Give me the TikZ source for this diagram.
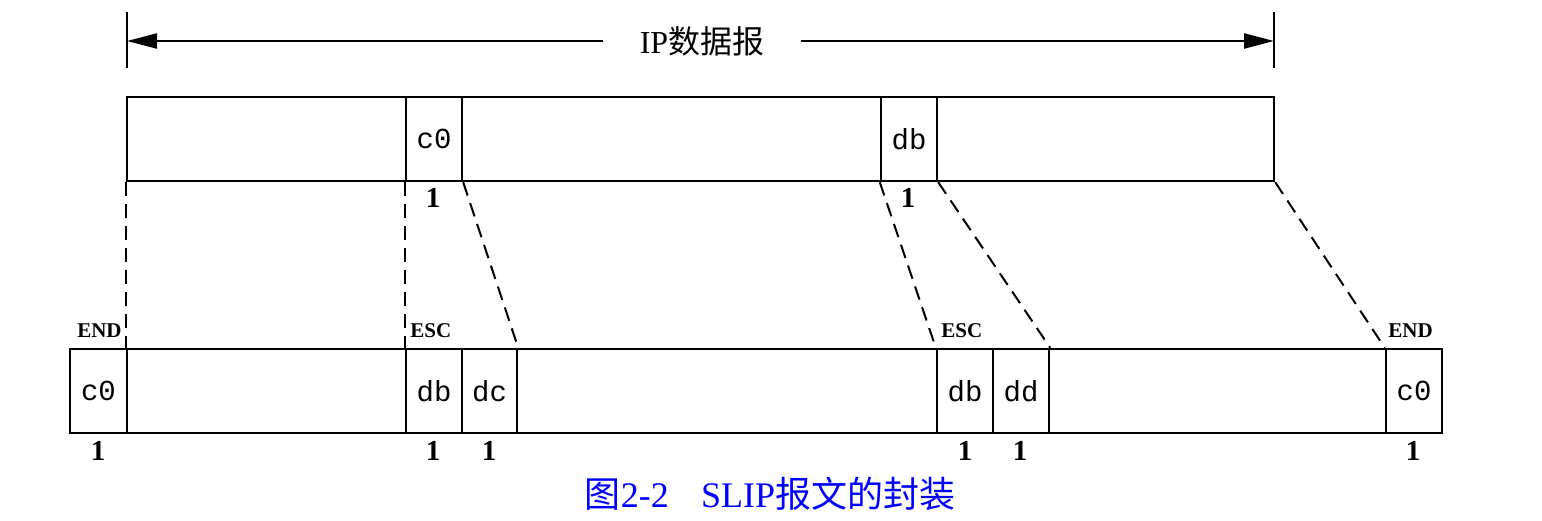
\documentclass[tikz,border=0pt]{standalone}
\usepackage{fontspec}
\setmainfont{Liberation Serif}
\newfontfamily\cjk{Noto Sans CJK SC}
\newfontfamily\celltt{Liberation Mono}
\usetikzlibrary{arrows.meta}

\tikzset{
	cell/.style = {draw, line width=1.2pt, minimum height=42pt, inner sep=0pt, font=\celltt\fontsize{14.5}{16}\selectfont},
	num/.style = {font=\bfseries\fontsize{14.5}{16}\selectfont},
	tag/.style = {inner sep=0pt, font=\bfseries\fontsize{10.5}{12}\selectfont},
	link/.style = {line width=1pt, dash pattern=on 7pt off 4pt}
}

\begin{document}
\begin{tikzpicture}[x=0.5pt, y=-0.5pt]
		\useasboundingbox (0,0) rectangle (1542,520);
		% IP datagram arrow
		\coordinate (lt) at (127,12);
		\coordinate (lb) at (127,68);
		\coordinate (rt) at (1274,12);
		\coordinate (rb) at (1274,68);
		\coordinate (la) at (127,41);
		\coordinate (ra) at (1274,41);
		\draw[line width=1.1pt] (lt) -- (lb);
		\draw[line width=1.1pt] (rt) -- (rb);
		\node[inner xsep=18pt, font=\fontsize{16}{18}\selectfont] (ip) at (702,41) {IP{\cjk 数据报}};
		\draw[line width=1.1pt, -{Triangle[length=15pt, width=7.5pt]}] (ip.west) -- (la);
		\draw[line width=1.1pt, -{Triangle[length=15pt, width=7.5pt]}] (ip.east) -- (ra);
		% top row
		\node[cell, minimum width=139.5pt] (t1) at (266.5,139) {};
		\node[cell, minimum width=28pt] (tc0) at (434,139) {c0};
		\node[cell, minimum width=209.5pt] (t2) at (671.5,139) {};
		\node[cell, minimum width=28pt] (tdb) at (909,139) {db};
		\node[cell, minimum width=168.5pt] (t3) at (1105.5,139) {};
		\node[num] (n1) at (433,198) {1};
		\node[num] (n2) at (908,198) {1};
		% bottom row
		\node[cell, minimum width=28.5pt] (bend1) at (98.5,391) {c0};
		\node[cell, minimum width=139.5pt] (b1) at (266.5,391) {};
		\node[cell, minimum width=28pt] (besc1) at (434,391) {db};
		\node[cell, minimum width=27.5pt] (bdc) at (489.5,391) {dc};
		\node[cell, minimum width=210pt] (b2) at (727,391) {};
		\node[cell, minimum width=28pt] (besc2) at (965,391) {db};
		\node[cell, minimum width=28pt] (bdd) at (1021,391) {dd};
		\node[cell, minimum width=168.5pt] (b3) at (1217.5,391) {};
		\node[cell, minimum width=28pt] (bend2) at (1414,391) {c0};
		\node[num] (m1) at (98,451) {1};
		\node[num] (m2) at (433,451) {1};
		\node[num] (m3) at (489,451) {1};
		\node[num] (m4) at (965,451) {1};
		\node[num] (m5) at (1020,451) {1};
		\node[num] (m6) at (1413,451) {1};
		% END / ESC
		\node[tag, anchor=base east] (end1) at (122,337) {END};
		\node[tag, anchor=base west] (esc1) at (410,337) {ESC};
		\node[tag, anchor=base west] (esc2) at (941,337) {ESC};
		\node[tag, anchor=base west] (end2) at (1388,337) {END};
		% dashed links
		\draw[link] (t1.south west) -- (b1.north west);
		\draw[link] (tc0.south west) -- (besc1.north west);
		\draw[link] (tc0.south east) -- (bdc.north east);
		\draw[link] (tdb.south west) -- (besc2.north west);
		\draw[link] (tdb.south east) -- (bdd.north east);
		\draw[link] (t3.south east) -- (bend2.north west);
		% caption
		\node[text=blue, font=\fontsize{18}{20}\selectfont] (cap) at (770,494) {{\cjk 图}2-2\hspace{0.9em}SLIP{\cjk 报文的封装}};
\end{tikzpicture}
\end{document}
